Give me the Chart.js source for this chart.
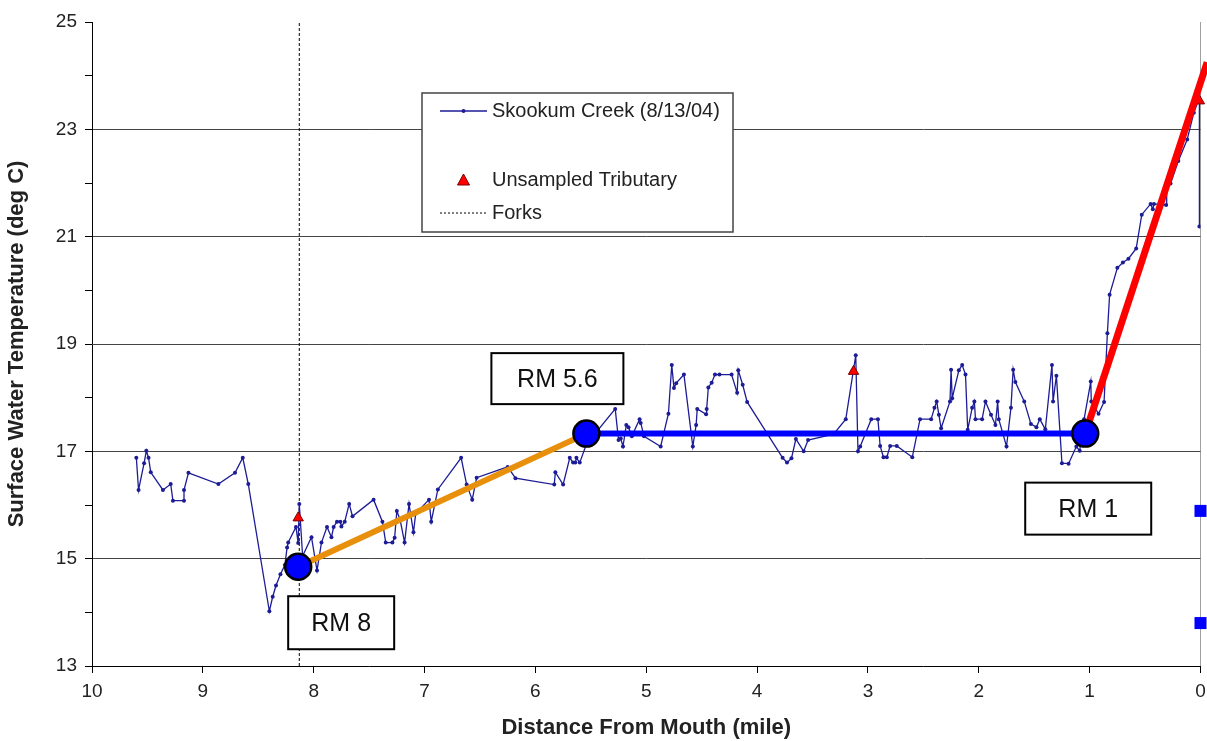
<!DOCTYPE html>
<html>
<head>
<meta charset="utf-8">
<script src="https://cdn.jsdelivr.net/npm/chart.js@4.4.1/dist/chart.umd.min.js"></script>
<style>
  html, body { margin: 0; padding: 0; background: #ffffff; }
</style>
</head>
<body>
<canvas id="chart" width="1207" height="741"></canvas>
<script>
// ---------- datos (milla desde la boca, temperatura en deg C) ----------
const skookumPoints = [
  [9.60,16.88],[9.58,16.28],[9.53,16.78],[9.51,17.01],[9.49,16.88],[9.47,16.61],[9.36,16.28],
  [9.29,16.39],[9.27,16.08],[9.17,16.08],[9.17,16.28],[9.13,16.60],[8.86,16.39],[8.71,16.60],
  [8.64,16.88],[8.59,16.39],[8.40,14.02],[8.37,14.29],[8.34,14.50],[8.30,14.71],[8.26,14.88],
  [8.24,15.21],[8.23,15.30],[8.16,15.59],[8.14,15.29],[8.13,16.02],[8.10,15.05],[8.02,15.40],
  [7.97,14.78],[7.93,15.30],[7.88,15.59],[7.84,15.40],[7.82,15.59],[7.79,15.69],[7.76,15.69],
  [7.75,15.60],[7.72,15.69],[7.68,16.02],[7.65,15.79],[7.46,16.10],[7.38,15.69],[7.35,15.30],
  [7.29,15.30],[7.27,15.39],[7.25,15.89],[7.22,15.72],[7.18,15.30],[7.14,16.02],[7.10,15.49],
  [7.08,15.84],[6.96,16.10],[6.94,15.69],[6.88,16.29],[6.67,16.88],[6.62,16.38],[6.57,16.10],
  [6.53,16.51],[6.25,16.71],[6.18,16.50],[5.83,16.38],[5.82,16.61],[5.75,16.38],[5.69,16.88],
  [5.66,16.79],[5.64,16.79],[5.63,16.88],[5.60,16.79],[5.54,17.13],[5.28,17.79],[5.25,17.21],
  [5.23,17.24],[5.21,17.09],[5.18,17.49],[5.16,17.45],[5.13,17.28],[5.06,17.60],[5.05,17.53],
  [5.02,17.28],[4.87,17.09],[4.80,17.70],[4.77,18.61],[4.75,18.18],[4.73,18.27],[4.66,18.43],
  [4.58,17.09],[4.55,17.49],[4.54,17.79],[4.46,17.69],[4.455,17.79],[4.44,18.19],[4.41,18.28],
  [4.38,18.43],[4.34,18.43],[4.23,18.43],[4.18,18.09],[4.17,18.51],[4.13,18.24],[4.09,17.92],
  [3.77,16.88],[3.73,16.79],[3.69,16.87],[3.65,17.23],[3.58,17.00],[3.54,17.21],[3.31,17.32],
  [3.20,17.60],[3.11,18.79],[3.09,17.00],[3.07,17.09],[2.97,17.60],[2.91,17.60],[2.89,17.10],
  [2.86,16.89],[2.83,16.89],[2.80,17.10],[2.74,17.10],[2.60,16.89],[2.53,17.60],[2.43,17.60],
  [2.40,17.81],[2.38,17.93],[2.36,17.68],[2.34,17.43],[2.26,17.93],[2.25,18.52],[2.24,17.99],
  [2.18,18.51],[2.15,18.61],[2.12,18.43],[2.10,17.40],[2.06,17.81],[2.04,17.93],[2.03,17.60],
  [1.97,17.60],[1.94,17.93],[1.89,17.68],[1.85,17.49],[1.83,17.93],[1.82,17.60],[1.75,17.09],
  [1.71,17.81],[1.69,18.52],[1.67,18.29],[1.59,17.93],[1.53,17.51],[1.48,17.45],[1.45,17.60],
  [1.40,17.41],[1.34,18.61],[1.33,17.93],[1.30,18.41],[1.25,16.78],[1.19,16.77],[1.12,17.09],
  [1.09,17.01],[1.05,17.60],[0.99,18.30],[0.985,17.93],[0.92,17.70],[0.87,17.92],[0.84,19.20],
  [0.82,19.92],[0.75,20.42],[0.70,20.52],[0.65,20.59],[0.58,20.78],[0.53,21.41],[0.45,21.61],
  [0.43,21.51],[0.42,21.61],[0.31,21.59],[0.305,22.00],[0.27,21.99],[0.20,22.41],[0.12,22.81],
  [0.06,23.31],[0.01,23.59],[0.01,21.19]
];

const tributaryMiles = [8.14, 3.13, 0.01];
const tributaryTemps = [15.76, 18.49, 23.53];

const forksMile = 8.13;

// puntos de referencia RM y tramos entre ellos
const rmLabels = ['RM 8', 'RM 5.6', 'RM 1'];
const rmMiles = [8.14, 5.54, 1.04];
const rmTemps = [14.85, 17.33, 17.33];
const redEnd = { mile: -0.06, temp: 24.25 };

const mouthMarkTemps = [15.89, 13.80];

const legendTexts = ['Skookum Creek (8/13/04)', '', 'Unsampled Tributary', 'Forks'];

const yMin = 13, yMax = 25;
const xMin = 0, xMax = 10;

// ---------- estilos ----------
const FONT = 'Liberation Sans, Arial, sans-serif';
const navy = '#1c1c96';

// cajas de texto RM: desplazamiento del centro respecto al punto (px) y tamaño
const rmBoxes = [
  { dx: 43, dy: 56, w: 106, h: 53 },
  { dx: -29, dy: -55, w: 132, h: 51 },
  { dx: 3, dy: 75, w: 126, h: 52 }
];

const legendBox = { x: 422, y: 93, w: 311, h: 139, rowH: 34.5 };

const toXY = (xs, ys) => xs.map((x, i) => ({ x: x, y: ys[i] }));

const annotationsPlugin = {
  id: 'annotations',
  afterDatasetsDraw(chart) {
    const ctx = chart.ctx;
    const xs = chart.scales.x, ys = chart.scales.y;
    ctx.save();

    // cajas RM
    rmLabels.forEach((label, i) => {
      const b = rmBoxes[i];
      const cx = xs.getPixelForValue(rmMiles[i]) + b.dx;
      const cy = ys.getPixelForValue(rmTemps[i]) + b.dy;
      ctx.fillStyle = '#ffffff';
      ctx.fillRect(cx - b.w / 2, cy - b.h / 2, b.w, b.h);
      ctx.strokeStyle = '#000000';
      ctx.lineWidth = 2;
      ctx.strokeRect(cx - b.w / 2, cy - b.h / 2, b.w, b.h);
      ctx.fillStyle = '#111111';
      ctx.font = '25px ' + FONT;
      ctx.textAlign = 'center';
      ctx.textBaseline = 'middle';
      ctx.fillText(label, cx, cy + 1);
    });

    // leyenda
    const L = legendBox;
    ctx.fillStyle = '#ffffff';
    ctx.fillRect(L.x, L.y, L.w, L.h);
    ctx.strokeStyle = '#444444';
    ctx.lineWidth = 1.5;
    ctx.strokeRect(L.x, L.y, L.w, L.h);
    ctx.font = '20px ' + FONT;
    ctx.textAlign = 'left';
    ctx.textBaseline = 'middle';
    const sx0 = L.x + 18, sx1 = L.x + 65, tx = L.x + 70;
    legendTexts.forEach((text, i) => {
      const y = L.y + 18 + i * L.rowH - (i === 3 ? 1.5 : 0);
      if (!text) return;
      if (i === 0) {
        ctx.strokeStyle = navy; ctx.lineWidth = 1.3; ctx.setLineDash([]);
        ctx.beginPath(); ctx.moveTo(sx0, y); ctx.lineTo(sx1, y); ctx.stroke();
        ctx.fillStyle = navy;
        ctx.beginPath(); ctx.arc((sx0 + sx1) / 2, y, 2, 0, Math.PI * 2); ctx.fill();
      } else if (i === 2) {
        const c = (sx0 + sx1) / 2;
        ctx.fillStyle = '#ff0000'; ctx.strokeStyle = '#7a0000'; ctx.lineWidth = 1;
        ctx.beginPath(); ctx.moveTo(c, y - 6); ctx.lineTo(c + 6, y + 5); ctx.lineTo(c - 6, y + 5);
        ctx.closePath(); ctx.fill(); ctx.stroke();
      } else if (i === 3) {
        ctx.strokeStyle = '#000000'; ctx.lineWidth = 1; ctx.setLineDash([2, 2]);
        ctx.beginPath(); ctx.moveTo(sx0, y); ctx.lineTo(sx1, y); ctx.stroke();
        ctx.setLineDash([]);
      }
      ctx.fillStyle = '#222222';
      ctx.fillText(text, tx, y);
    });
    ctx.restore();
  }
};

new Chart(document.getElementById('chart'), {
  type: 'scatter',
  data: {
    datasets: [
      {
        label: 'RM',
        data: toXY(rmMiles, rmTemps),
        pointRadius: 13,
        pointBackgroundColor: '#0000ff',
        pointBorderColor: '#000000',
        pointBorderWidth: 2.5,
        clip: false,
        order: 0
      },
      {
        label: 'Tramo RM 1 - boca',
        data: [{ x: rmMiles[2], y: rmTemps[2] }, { x: redEnd.mile, y: redEnd.temp }],
        showLine: true, borderColor: '#ff0000', borderWidth: 7, pointRadius: 0,
        clip: false, order: 1
      },
      {
        label: 'Tramo RM 5.6 - RM 1',
        data: [{ x: rmMiles[1], y: rmTemps[1] }, { x: rmMiles[2], y: rmTemps[2] }],
        showLine: true, borderColor: '#0000ff', borderWidth: 6, pointRadius: 0, order: 1
      },
      {
        label: 'Tramo RM 8 - RM 5.6',
        data: [{ x: rmMiles[0], y: rmTemps[0] }, { x: rmMiles[1], y: rmTemps[1] }],
        showLine: true, borderColor: '#e8900c', borderWidth: 6, pointRadius: 0, order: 1
      },
      {
        label: 'Unsampled Tributary',
        data: toXY(tributaryMiles, tributaryTemps),
        pointStyle: 'triangle', pointRadius: 6,
        pointBackgroundColor: '#ff0000', pointBorderColor: '#7a0000', pointBorderWidth: 1,
        clip: false, order: 2
      },
      {
        label: 'Boca',
        data: mouthMarkTemps.map(t => ({ x: 0, y: t })),
        pointStyle: 'rect', pointRadius: 8.5,
        pointBackgroundColor: '#0000ff', pointBorderWidth: 0,
        clip: false, order: 3
      },
      {
        label: 'Skookum Creek (8/13/04)',
        data: skookumPoints.map(p => ({ x: p[0], y: p[1] })),
        showLine: true, borderColor: navy, borderWidth: 1.3,
        pointRadius: 2, pointBackgroundColor: navy, pointBorderWidth: 0,
        order: 4
      },
      {
        label: 'Forks',
        data: [{ x: forksMile, y: yMin }, { x: forksMile, y: yMax }],
        showLine: true, borderColor: '#000000', borderWidth: 1, borderDash: [3, 2],
        pointRadius: 0, order: 5
      }
    ]
  },
  options: {
    responsive: false,
    animation: false,
    events: [],
    layout: { autoPadding: false, padding: { left: 0, top: 22, right: 6.5, bottom: 0 } },
    plugins: { legend: { display: false }, tooltip: { enabled: false } },
    scales: {
      x: {
        type: 'linear',
        reverse: true,
        min: xMin, max: xMax,
        afterFit: s => { s.height = 75; s.paddingLeft = 0; s.paddingRight = 0; },
        ticks: { stepSize: 1, color: '#222', font: { family: FONT, size: 19 }, padding: 7, autoSkip: false },
        grid: {
          color: c => (c.tick && c.tick.value === 0 ? '#a0a0a0' : 'rgba(0,0,0,0)'),
          tickColor: '#000000',
          tickLength: 7
        },
        border: { color: '#000000', width: 1 },
        title: {
          display: true,
          text: 'Distance From Mouth (mile)',
          color: '#222',
          font: { family: FONT, size: 22, weight: 'bold' },
          padding: { top: 0, bottom: 0 }
        }
      },
      y: {
        min: yMin, max: yMax,
        afterFit: s => { s.width = 92; },
        ticks: {
          stepSize: 1, autoSkip: false, color: '#222',
          font: { family: FONT, size: 19 }, padding: 8,
          callback: v => (v % 2 === 1 ? v : '')
        },
        grid: {
          color: c => (c.tick && c.tick.value % 2 === 1 && c.tick.value > yMin && c.tick.value < yMax ? '#444444' : 'rgba(0,0,0,0)'),
          tickColor: '#000000',
          tickLength: 7
        },
        border: { color: '#000000', width: 1 },
        title: {
          display: true,
          text: 'Surface Water Temperature (deg C)',
          color: '#222',
          font: { family: FONT, size: 22, weight: 'bold' },
          padding: { top: 4, bottom: 0 }
        }
      }
    }
  },
  plugins: [annotationsPlugin]
});
</script>
</body>
</html>
